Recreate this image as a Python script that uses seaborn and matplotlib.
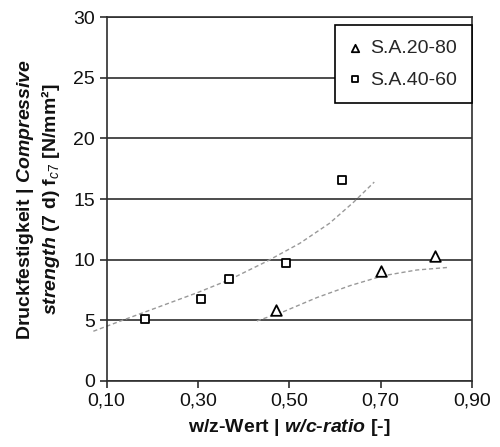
import matplotlib
matplotlib.use('Agg')
import matplotlib.pyplot as plt
import seaborn as sns

# measured points
tri_x = [0.471, 0.700, 0.818]
tri_y = [5.85, 9.07, 10.3]
sq_x = [0.183, 0.306, 0.369, 0.493, 0.616]
sq_y = [5.15, 6.74, 8.39, 9.69, 16.56]

# trend lines
tri_fit_x = [0.429, 0.487, 0.560, 0.633, 0.706, 0.779, 0.850]
tri_fit_y = [4.95, 5.71, 6.87, 7.86, 8.68, 9.15, 9.37]
sq_fit_x = [0.071, 0.126, 0.300, 0.369, 0.450, 0.523, 0.588, 0.641, 0.686]
sq_fit_y = [4.10, 4.88, 7.30, 8.35, 9.85, 11.35, 13.0, 14.75, 16.4]

x_ticks = [0.1, 0.3, 0.5, 0.7, 0.9]
x_tick_labels = ["0,10", "0,30", "0,50", "0,70", "0,90"]
y_ticks = [0, 5, 10, 15, 20, 25, 30]

sns.set_theme(style="white")
plt.rcParams['font.family'] = ['Liberation Sans', 'DejaVu Sans']
plt.rcParams['mathtext.fontset'] = 'custom'
plt.rcParams['mathtext.rm'] = 'Liberation Sans'
plt.rcParams['mathtext.it'] = 'Liberation Sans:italic'
plt.rcParams['mathtext.bf'] = 'Liberation Sans:bold'
plt.rcParams['mathtext.bfit'] = 'Liberation Sans:italic:bold'

line_col = '#2e2e2e'
fig = plt.figure(figsize=(5, 4.47), dpi=100)
ax = fig.add_axes([0.2132, 0.1477, 0.7308, 0.814])

# trend lines
sns.lineplot(x=sq_fit_x, y=sq_fit_y, ax=ax, sort=False, estimator=None,
             color='#999999', lw=1, ls=(0, (3, 2)), clip_on=False)
sns.lineplot(x=tri_fit_x, y=tri_fit_y, ax=ax, sort=False, estimator=None,
             color='#999999', lw=1, ls=(0, (3, 2)), clip_on=False)

# points
sns.scatterplot(x=tri_x, y=tri_y, ax=ax, marker='^', s=58, color='white',
                edgecolor='black', linewidth=1.3, label='S.A.20-80', zorder=4)
sns.scatterplot(x=sq_x, y=sq_y, ax=ax, marker='s', s=40, color='white',
                edgecolor='black', linewidth=1.3, label='S.A.40-60', zorder=4)

ax.set_xlim(0.1, 0.9)
ax.set_ylim(0, 30)
ax.set_xticks(x_ticks)
ax.set_xticklabels(x_tick_labels)
ax.set_yticks(y_ticks)

ax.yaxis.grid(True, color=line_col, lw=1.2)
ax.xaxis.grid(False)
for s in ax.spines.values():
    s.set_color(line_col)
    s.set_linewidth(1.2)

ax.tick_params(axis='both', bottom=True, left=True, direction='out', length=5,
               width=1.2, color=line_col, labelsize=14, labelcolor='#111111')

ax.set_xlabel("w/z-Wert | $\\mathbfit{w/c}$-$\\mathbfit{ratio}$ [-]",
              fontsize=14, fontweight='bold', color='#111111', labelpad=5)
ax.set_ylabel("Druckfestigkeit | $\\mathbfit{Compressive}$\n"
              "$\\mathbfit{strength}$ (7 d) f$_{c7}$ [N/mm²]",
              fontsize=14, fontweight='bold', color='#111111', labelpad=8)

handles, labels = ax.get_legend_handles_labels()
leg = ax.legend(handles, labels, loc='upper right', bbox_to_anchor=(1.0, 0.978),
                borderaxespad=0, fontsize=14, frameon=True, fancybox=False,
                edgecolor='black', facecolor='white', framealpha=1,
                markerscale=0.7, handlelength=0.6, handletextpad=0.5,
                borderpad=0.75, labelspacing=0.7)
leg.get_frame().set_linewidth(1.2)

fig.savefig('out.png', dpi=100)
